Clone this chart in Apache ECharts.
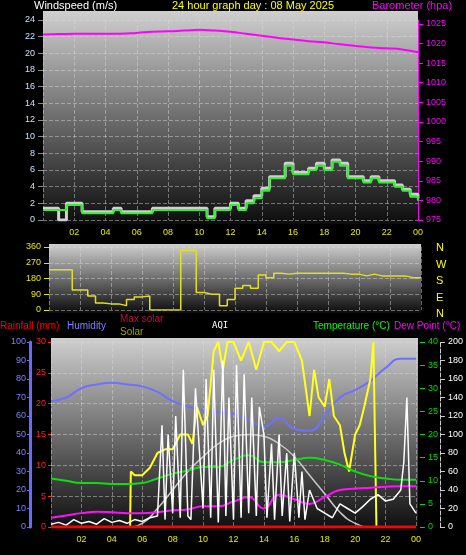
<!DOCTYPE html>
<html>
<head>
<meta charset="utf-8">
<script src="https://cdn.jsdelivr.net/npm/echarts@6/dist/echarts.min.js"></script>
<style>
  body { margin: 0; background: #000; }
  #main { width: 466px; height: 555px; }
</style>
</head>
<body>
<div id="main"></div>
<script>
// half-hour steps 0..24
var windTimes = [0,0.5,1,1.5,2,2.5,3,3.5,4,4.5,5,5.5,6,6.5,7,7.5,8,8.5,9,9.5,10,10.5,11,11.5,12,12.5,13,13.5,14,14.5,15,15.5,16,16.5,17,17.5,18,18.5,19,19.5,20,20.5,21,21.5,22,22.5,23,23.5,24];
var windAvg = [1.2,1.2,1.2,1.8,1.8,0.8,0.8,0.8,0.8,1.2,0.8,0.8,0.8,0.8,1.2,1.2,1.2,1.2,1.2,1.2,1.2,0.2,1.2,1.2,1.8,1.2,2,2.6,3.5,5,5,6.5,5.5,5.5,6,6.5,6,7,6.5,5,5,4.5,5,4.5,4.5,4,3.5,2.8,2.3];
var windGust = [1.4,1.4,0,2,2,1,1,1,1,1.4,1,1,1,1,1.4,1.4,1.4,1.4,1.4,1.4,1.4,0.4,1.4,1.4,2,1.4,2.3,2.9,3.8,5.2,5.2,6.8,5.7,5.7,6.2,6.8,6.2,7.2,6.8,5.2,5.2,4.7,5.2,4.7,4.7,4.2,3.7,3.1,2.6];
var windDir = [230,230,230,115,115,80,40,35,35,25,60,75,80,0,0,0,0,340,340,100,90,90,25,60,125,140,125,200,185,210,205,210,210,210,210,210,210,210,205,205,195,205,195,195,195,195,185,185,185];

var hours = [0,1,2,3,4,5,6,7,8,9,10,11,12,13,14,15,16,17,18,19,20,21,22,23,24];
var baro = [1022.3,1022.4,1022.5,1022.5,1022.5,1022.5,1022.7,1023,1023.1,1023.3,1023.5,1023.3,1023,1022.5,1022,1021.5,1021,1020.6,1020.3,1019.8,1019.4,1019,1018.8,1018.5,1017.8];
var humidity = [68,70,75,77,78,77,76,73,68,65,63,62,61,58,54,59,53,52,60,70,74,79,86,91,91];
var temperature = [10.5,10,9.5,9.5,9.3,9.3,9.5,10.5,11.5,12.2,13,13,14.5,15.5,14,14,14.5,15,14.5,13.5,12,11,10.5,10.2,10.2];
var dewPoint = [2,2.5,3,3.3,3.2,3,3,3.2,3.6,3.8,4.5,4.5,5.5,6.5,4,7,6,5,6.5,8,8.3,8.5,8.7,8.8,8.8];
var rainfall = [0,0,0,0,0,0,0,0,0,0,0,0,0,0,0,0,0,0,0,0,0,0,0,0,0];
var maxSolar = [0,0,0,0,0,0,2,10,20,30,38,45,49,50,49,45,38,28,18,8,2,0,0,0,0];

var solarTimes = [0,5.2,5.25,5.5,6,6.5,7,7.5,8,8.5,9,9.3,9.6,10,10.3,10.7,11,11.3,11.6,12,12.5,13,13.5,14,14.5,15,15.5,16,16.5,17,17.3,17.6,18,18.3,18.6,19,19.3,19.6,20,20.3,20.6,21,21.2,21.4,24];
var solar = [0,0,30,28,28,32,40,42,42,50,50,45,65,55,60,95,100,85,100,100,90,100,85,100,100,95,100,100,90,60,85,70,65,80,60,55,40,30,50,55,65,80,100,0,0];

var aqiTimes = [0,0.5,1,1.5,2,2.5,3,3.5,4,4.5,5,5.5,6,6.5,7,7.3,7.5,7.7,8,8.2,8.5,8.7,9,9.2,9.5,10,10.2,10.5,10.7,11,11.3,11.5,11.7,12,12.2,12.5,12.7,13,13.2,13.5,13.7,14,14.2,14.5,14.7,15,15.2,15.5,15.7,16,16.3,16.5,16.7,17,17.5,18,18.5,19,19.5,20,20.5,21,21.5,22,22.5,23,23.2,23.4,23.6,24];
var aqi = [3,5,2,8,4,6,3,9,5,7,4,8,6,10,12,110,8,100,15,120,10,170,12,8,150,20,160,10,170,5,180,12,140,8,175,10,165,15,140,12,130,100,10,90,8,100,12,80,6,80,10,60,8,40,20,15,10,25,20,15,22,30,35,28,30,40,70,140,25,15];

function pairs(xs, ys) { return xs.map(function (x, i) { return [x, ys[i]]; }); }

var bgGrad = new echarts.graphic.LinearGradient(0, 0, 0, 1, [
  { offset: 0, color: '#cfcfcf' }, { offset: 1, color: '#0c0c0c' }]);
var split = { show: true, lineStyle: { color: 'rgba(220,220,220,0.45)', type: 'dashed' } };
var lab = function (c) { return { color: c, fontSize: 9, fontFamily: 'Liberation Sans' }; };
var hourFmt = function (v) { return v === 0 ? '' : ('0' + (v % 24)).slice(-2); };
var font = '10px Liberation Sans';

function xAxis(idx, showLab) {
  return { type: 'value', gridIndex: idx, min: 0, max: 24, interval: 2,
    axisLabel: Object.assign(lab('#e8e800'), { show: showLab, formatter: hourFmt }),
    axisLine: { show: false }, axisTick: { show: false }, splitLine: split };
}

var chart = echarts.init(document.getElementById('main'));
chart.setOption({
  backgroundColor: '#000',
  animation: false,
  graphic: [
    { type: 'rect', z: -10, shape: { x: 43, y: 11, width: 375, height: 213 }, style: { fill: bgGrad } },
    { type: 'rect', z: -10, shape: { x: 49, y: 244, width: 372, height: 69 }, style: { fill: bgGrad } },
    { type: 'rect', z: -10, shape: { x: 51, y: 338, width: 367, height: 193 }, style: { fill: bgGrad } },
    { type: 'text', left: 34, top: 0, style: { text: 'Windspeed (m/s)', fill: '#fff', font: '11px Liberation Sans' } },
    { type: 'text', left: 172, top: 0, style: { text: '24 hour graph day : 08 May 2025', fill: '#ffff00', font: '11px Liberation Sans' } },
    { type: 'text', left: 372, top: 0, style: { text: 'Barometer (hpa)', fill: '#ff00ff', font: '11px Liberation Sans' } },
    { type: 'text', left: 0, top: 321, style: { text: 'Rainfall (mm)', fill: '#ff0000', font: font } },
    { type: 'text', left: 67, top: 321, style: { text: 'Humidity', fill: '#8080ff', font: font } },
    { type: 'text', left: 120, top: 314, style: { text: 'Max solar', fill: '#c0103c', font: font } },
    { type: 'text', left: 120, top: 327, style: { text: 'Solar', fill: '#a0a000', font: font } },
    { type: 'text', left: 212, top: 321, style: { text: 'AQI', fill: '#fff', font: '9px DejaVu Sans Mono' } },
    { type: 'text', left: 313, top: 321, style: { text: 'Temperature (°C)', fill: '#00ff00', font: font } },
    { type: 'text', left: 394, top: 321, style: { text: 'Dew Point (°C)', fill: '#ff00ff', font: font } },
    { type: 'text', left: 436, top: 240, style: { text: 'N\nW\nS\nE\nN', fill: '#ffff00', font: '11px Liberation Sans', lineHeight: 16.5 } }
  ],
  grid: [
    { left: 43, right: 48, top: 20, height: 200 },
    { left: 49, right: 45, top: 247, height: 63 },
    { left: 51, right: 48, top: 342, height: 185 }
  ],
  xAxis: [xAxis(0, true), xAxis(1, false), xAxis(2, true)],
  yAxis: [
    { type: 'value', gridIndex: 0, min: 0, max: 24, interval: 2, axisLabel: lab('#cce0ff'),
      axisLine: { show: false }, axisTick: { show: true, lineStyle: { color: '#888' } }, splitLine: split },
    { type: 'value', gridIndex: 0, position: 'right', min: 975, max: 1026, interval: 5,
      axisLabel: Object.assign(lab('#ff00ff'), { formatter: function (v) { return String(v); } }),
      axisLine: { show: true, lineStyle: { color: '#ff00ff' } }, axisTick: { show: true }, splitLine: { show: false } },
    { type: 'value', gridIndex: 1, min: 0, max: 360, interval: 90, axisLabel: lab('#e8e800'),
      axisLine: { show: false }, axisTick: { show: true, lineStyle: { color: '#e8e800' } }, splitLine: split },
    { type: 'value', gridIndex: 2, min: 0, max: 30, interval: 5, offset: 2, axisLabel: Object.assign(lab('#ff2020'), { margin: 3 }),
      axisLine: { show: false }, axisTick: { show: true, length: 3, lineStyle: { color: '#ff2020' } }, splitLine: split },
    { type: 'value', gridIndex: 2, min: 0, max: 100, interval: 10, offset: 21, position: 'left', axisLabel: Object.assign(lab('#8080ff'), { margin: 4 }),
      axisLine: { show: true, lineStyle: { color: '#6a6aff', width: 3 } }, axisTick: { show: true, length: 3 }, splitLine: { show: false } },
    { type: 'value', gridIndex: 2, min: 0, max: 40, interval: 5, offset: 4, position: 'right', axisLabel: lab('#00dd00'),
      axisLine: { show: false }, axisTick: { show: true, lineStyle: { color: '#00dd00' } }, splitLine: { show: false } },
    { type: 'value', gridIndex: 2, min: 0, max: 200, interval: 20, offset: 24, position: 'right', axisLabel: lab('#ffffff'),
      axisLine: { show: true, lineStyle: { color: '#ccc', type: 'dashed' } }, axisTick: { show: true }, splitLine: { show: false } }
  ],
  series: [
    { type: 'line', xAxisIndex: 0, yAxisIndex: 1, data: pairs(hours, baro), symbol: 'none', smooth: true,
      lineStyle: { color: '#ff00ff', width: 2 } },
    { type: 'line', xAxisIndex: 0, yAxisIndex: 0, data: pairs(windTimes, windGust), step: 'end', symbol: 'none',
      lineStyle: { color: '#d0d0d0', width: 3 } },
    { type: 'line', xAxisIndex: 0, yAxisIndex: 0, data: pairs(windTimes, windAvg), step: 'end', symbol: 'none',
      lineStyle: { color: '#33ee33', width: 2 } },
    { type: 'line', xAxisIndex: 1, yAxisIndex: 2, data: pairs(windTimes, windDir), step: 'end', symbol: 'none',
      lineStyle: { color: '#e0e020', width: 1.5 } },
    { type: 'line', xAxisIndex: 2, yAxisIndex: 4, data: pairs(hours, humidity), symbol: 'none', smooth: true,
      lineStyle: { color: '#7070ff', width: 2 } },
    { type: 'line', xAxisIndex: 2, yAxisIndex: 4, data: pairs(hours, maxSolar), symbol: 'none', smooth: true,
      lineStyle: { color: '#c8c8c8', width: 1.5 } },
    { type: 'line', xAxisIndex: 2, yAxisIndex: 4, data: pairs(solarTimes, solar), symbol: 'none',
      lineStyle: { color: '#ffff20', width: 2 } },
    { type: 'line', xAxisIndex: 2, yAxisIndex: 5, data: pairs(hours, temperature), symbol: 'none', smooth: true,
      lineStyle: { color: '#10dd10', width: 2 } },
    { type: 'line', xAxisIndex: 2, yAxisIndex: 5, data: pairs(hours, dewPoint), symbol: 'none', smooth: true,
      lineStyle: { color: '#ff10ff', width: 2 } },
    { type: 'line', xAxisIndex: 2, yAxisIndex: 6, data: pairs(aqiTimes, aqi), symbol: 'none',
      lineStyle: { color: '#ffffff', width: 1.5 } },
    { type: 'line', xAxisIndex: 2, yAxisIndex: 3, data: pairs(hours, rainfall), symbol: 'none',
      lineStyle: { color: '#ff0000', width: 3 } }
  ]
});
</script>
</body>
</html>
